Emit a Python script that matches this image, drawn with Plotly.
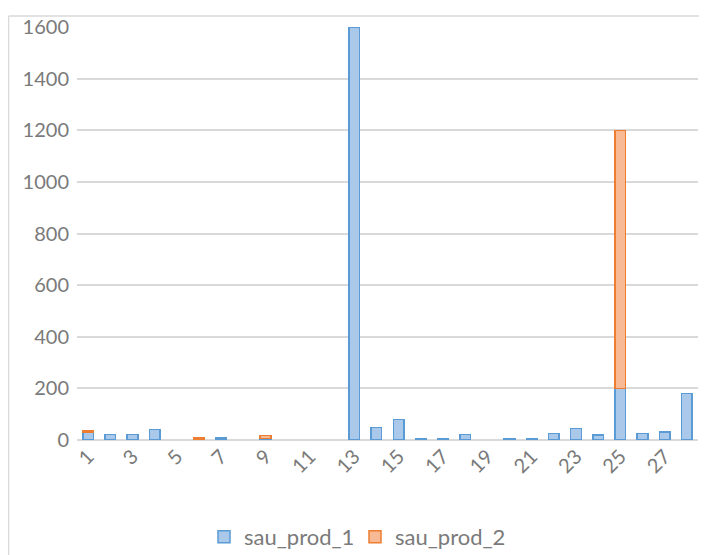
import plotly.graph_objects as go

categories = list(range(1, 29))
sau_prod_1 = [31, 21, 21, 41, None, None, 8, None, 6, None, None, None, 1600, 49,
              80, 5, 5, 22, None, 3, 3, 26, 45, 19, 200, 26, 31, 181]
sau_prod_2 = [5, None, None, None, None, 8, None, None, 12, None, None, None, None, None,
              None, None, None, None, None, None, None, None, None, None, 1000, None, None, None]
tick_vals = list(range(1, 29, 2))

FONT = "Lato"
GRAY = "#7a7a7a"
GRID = "#d9d9d9"

fig = go.Figure()
fig.add_trace(go.Bar(
    x=categories, y=sau_prod_1, name="sau_prod_1",
    marker=dict(color="#a9c8ea", line=dict(color="#5b9bd5", width=1.5)),
))
fig.add_trace(go.Bar(
    x=categories, y=sau_prod_2, name="sau_prod_2",
    marker=dict(color="#f8b995", line=dict(color="#ed7d31", width=1.5)),
))

# page has an 8px body margin, so figure coords = page coords - 8
OFF = 8
W, H = 707 - OFF, 555 - OFF
L = 77 - OFF
T = 27 - OFF
R = W - (698 - OFF)
B = H - (440 - OFF)
pw = W - L - R
ph = H - T - B

fig.update_layout(
    width=W, height=H,
    margin=dict(l=L, r=R, t=T, b=B, autoexpand=False),
    barmode="stack", bargap=0.52,
    plot_bgcolor="white", paper_bgcolor="white",
    font=dict(family=FONT, size=20, color=GRAY),
    xaxis=dict(
        range=[0.5, 28.5], tickmode="array", tickvals=tick_vals,
        ticktext=[str(v) for v in tick_vals], tickangle=-45,
        showgrid=False, zeroline=False, showline=False, ticks="",
        automargin=False,
        tickfont=dict(family=FONT, size=20, color=GRAY),
    ),
    yaxis=dict(
        range=[0, 1600], dtick=200, showgrid=True, gridcolor=GRID, gridwidth=1.5,
        zeroline=True, zerolinecolor=GRID, zerolinewidth=1.5, showline=False,
        ticks="", ticklabelstandoff=7, automargin=False,
        tickfont=dict(family=FONT, size=20, color=GRAY),
    ),
    showlegend=True,
    legend=dict(
        orientation="h", x=(204 - 77) / pw, xanchor="left",
        y=(440 - 537) / ph, yanchor="middle", traceorder="normal",
        font=dict(family=FONT, size=22, color=GRAY),
        itemwidth=30, entrywidth=106, entrywidthmode="pixels",
        bgcolor="rgba(0,0,0,0)",
    ),
)

# chart border (top and left edges visible)
bx = (0.5 - L) / pw
by = 1 + (T - (16 - OFF)) / ph
fig.add_shape(type="line", xref="paper", yref="paper", x0=bx, x1=1.2, y0=by, y1=by,
              line=dict(color=GRID, width=1.5))
fig.add_shape(type="line", xref="paper", yref="paper", x0=bx, x1=bx, y0=by, y1=-0.6,
              line=dict(color=GRID, width=1.5))

fig.write_html("out.html")
